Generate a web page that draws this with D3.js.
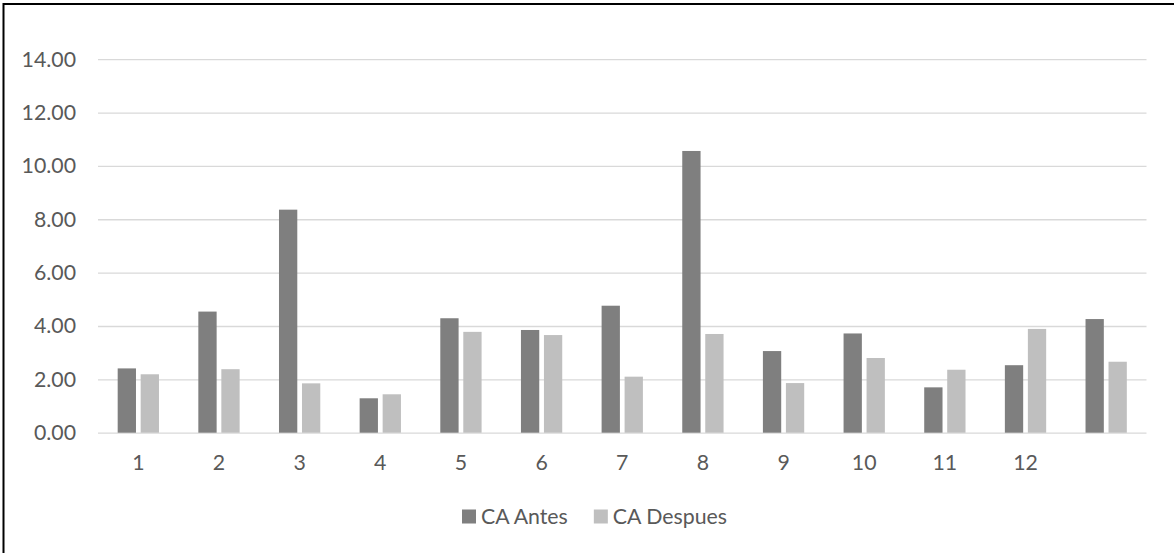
<!DOCTYPE html>
<html>
<head>
<meta charset="utf-8">
<script src="https://cdn.jsdelivr.net/npm/d3@7"></script>
<style>
  html, body { margin: 0; padding: 0; background: #fff; }
  svg { display: block; }
  text { font-family: Lato, "Open Sans", sans-serif; fill: #595959; }
</style>
</head>
<body>
<svg id="chart" width="1174" height="553"></svg>
<script>
// Categories along the x axis (the last group carries no label)
const categories = [1, 2, 3, 4, 5, 6, 7, 8, 9, 10, 11, 12, 13];
const tickLabels = ["1", "2", "3", "4", "5", "6", "7", "8", "9", "10", "11", "12", ""];

// Series
const seriesNames = ["CA Antes", "CA Despues"];
const caAntes   = [2.41, 4.54, 8.36, 1.29, 4.29, 3.85, 4.76, 10.56, 3.06, 3.72, 1.70, 2.53, 4.26];
const caDespues = [2.19, 2.38, 1.85, 1.44, 3.78, 3.66, 2.10, 3.70, 1.86, 2.80, 2.36, 3.89, 2.66];
const seriesColors = ["#7f7f7f", "#bfbfbf"];

// Value axis
const yTicks = [0, 2, 4, 6, 8, 10, 12, 14];

const FONT_SIZE = 21.3;

const svg = d3.select("#chart");
const plot = { left: 98, right: 1146.5, top: 59.2, bottom: 432.7 };

// Outer frame of the chart area
svg.append("rect")
  .attr("x", 3.5).attr("y", 4)
  .attr("width", 1200).attr("height", 600)
  .attr("fill", "none").attr("stroke", "#000").attr("stroke-width", 2);

const x0 = d3.scaleBand()
  .domain(categories)
  .range([plot.left, plot.right])
  .paddingInner(0.488)
  .paddingOuter(0.244);

const x1 = d3.scaleBand()
  .domain(seriesNames)
  .range([0, x0.bandwidth()])
  .paddingInner(0.2043);

const y = d3.scaleLinear().domain([0, 14]).range([plot.bottom, plot.top]);

// Gridlines
const grid = svg.append("g")
  .attr("transform", `translate(${plot.left},0)`)
  .call(d3.axisLeft(y).tickValues(yTicks).tickSize(-(plot.right - plot.left)).tickFormat(""));
grid.select(".domain").remove();
grid.selectAll(".tick line").attr("stroke", "#d9d9d9").attr("stroke-width", 1.3);

// Y axis labels
const yAxis = svg.append("g")
  .attr("transform", `translate(76,0)`)
  .call(d3.axisLeft(y).tickValues(yTicks).tickSize(0).tickPadding(0).tickFormat(d3.format(".2f")));
yAxis.select(".domain").remove();
yAxis.selectAll("text")
  .attr("font-size", FONT_SIZE)
  .attr("fill", "#595959")
  .style("font-family", "Lato, 'Open Sans', sans-serif");

// X axis labels
const xAxis = svg.append("g")
  .attr("transform", `translate(0,${plot.bottom})`)
  .call(d3.axisBottom(x0).tickSize(0).tickPadding(22).tickFormat((d, i) => tickLabels[i]));
xAxis.select(".domain").remove();
xAxis.selectAll("text")
  .attr("font-size", FONT_SIZE)
  .attr("fill", "#595959")
  .style("font-family", "Lato, 'Open Sans', sans-serif");

// Bars
const seriesValues = [caAntes, caDespues];
const rows = categories.map((c, i) => ({
  cat: c,
  values: seriesNames.map((s, k) => ({ name: s, value: seriesValues[k][i], color: seriesColors[k] }))
}));

svg.append("g")
  .selectAll("g")
  .data(rows)
  .join("g")
  .attr("transform", d => `translate(${x0(d.cat)},0)`)
  .selectAll("rect")
  .data(d => d.values)
  .join("rect")
  .attr("x", d => x1(d.name))
  .attr("width", x1.bandwidth())
  .attr("y", d => y(d.value))
  .attr("height", d => y(0) - y(d.value))
  .attr("fill", d => d.color);

// Legend
const legend = svg.append("g").attr("transform", "translate(462,0)");
let lx = 0;
seriesNames.forEach((name, k) => {
  legend.append("rect")
    .attr("x", lx).attr("y", 509.5)
    .attr("width", 14).attr("height", 14)
    .attr("fill", seriesColors[k]);
  const t = legend.append("text")
    .attr("x", lx + 19).attr("y", 523.5)
    .attr("font-size", FONT_SIZE)
    .text(name);
  lx += 19 + t.node().getComputedTextLength() + 26;
});
</script>
</body>
</html>
